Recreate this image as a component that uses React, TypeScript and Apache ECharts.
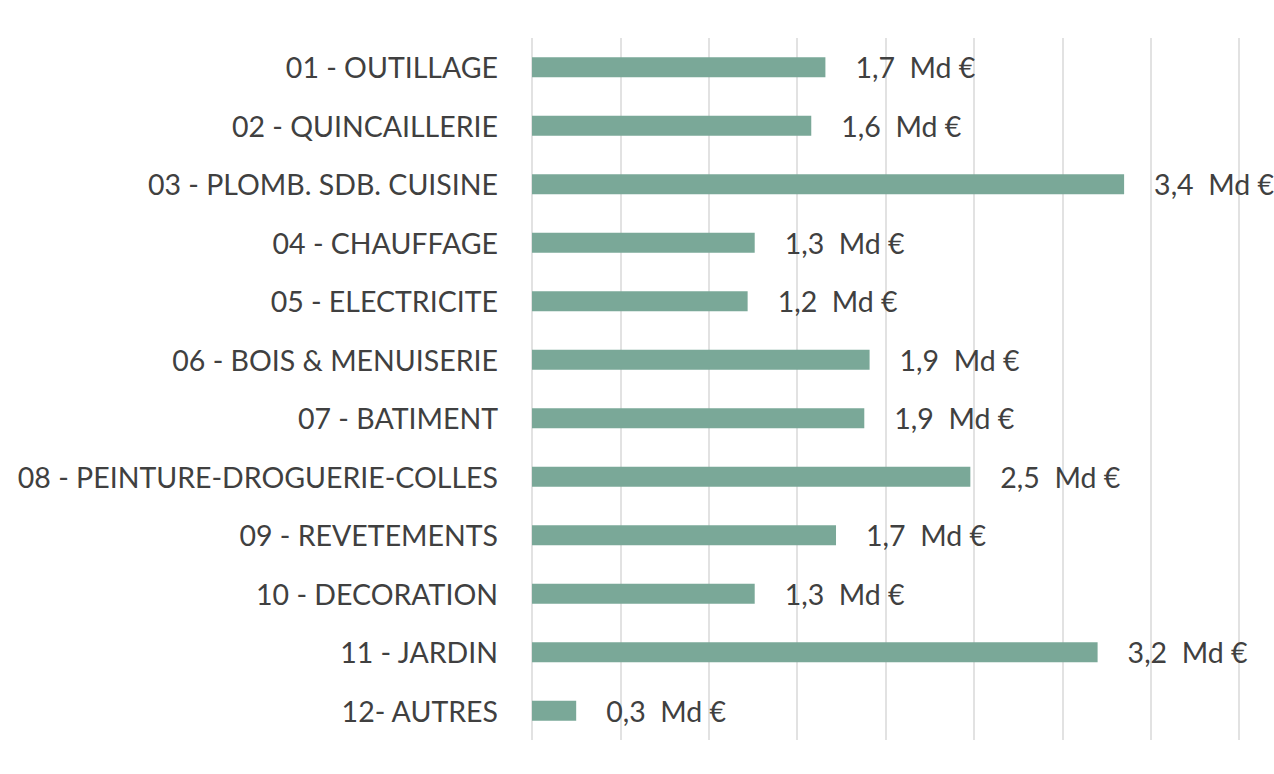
import { useEffect, useRef } from "react"
import * as echarts from "echarts"

const categories = [
  "01 - OUTILLAGE",
  "02 - QUINCAILLERIE",
  "03 - PLOMB. SDB. CUISINE",
  "04 - CHAUFFAGE",
  "05 - ELECTRICITE",
  "06 - BOIS & MENUISERIE",
  "07 - BATIMENT",
  "08 - PEINTURE-DROGUERIE-COLLES",
  "09 - REVETEMENTS",
  "10 - DECORATION",
  "11 - JARDIN",
  "12- AUTRES",
]

// bar lengths (Md €)
const values = [1.66, 1.58, 3.35, 1.26, 1.22, 1.91, 1.88, 2.48, 1.72, 1.26, 3.2, 0.25]

// printed labels
const labels = ["1,7", "1,6", "3,4", "1,3", "1,2", "1,9", "1,9", "2,5", "1,7", "1,3", "3,2", "0,3"]

const FONT = "Lato"

export default function App() {
  const chartRef = useRef<HTMLDivElement>(null)

  useEffect(() => {
    if (!chartRef.current) return
    const chart = echarts.init(chartRef.current, null, { renderer: "svg" })

    const option = {
      animation: false,
      grid: { top: 38, bottom: 34, left: 532, right: 35, containLabel: false },
      xAxis: {
        type: "value",
        min: 0,
        max: 4,
        interval: 0.5,
        axisLabel: { show: false },
        axisLine: { show: false },
        axisTick: { show: false },
        splitLine: { lineStyle: { color: "#d9d9d9", width: 1.5 } },
      },
      yAxis: {
        type: "category",
        data: categories,
        inverse: true,
        axisLine: { show: false },
        axisTick: { show: false },
        axisLabel: {
          margin: 34,
          fontFamily: FONT,
          fontSize: 28.5,
          color: "#404040",
        },
      },
      series: [
        {
          type: "bar",
          data: values,
          barWidth: 20,
          itemStyle: { color: "#7aa898" },
          label: {
            show: true,
            position: "right",
            distance: 30,
            fontFamily: FONT,
            fontSize: 28.5,
            color: "#404040",
            formatter: (p: any) => `${labels[p.dataIndex]}  Md €`,
          },
        },
      ],
    }

    chart.setOption(option)
    return () => chart.dispose()
  }, [])

  return (
    <div
      ref={chartRef}
      style={{ position: "fixed", left: 0, top: 0, width: 1274, height: 774, background: "#fff" }}
    />
  )
}
